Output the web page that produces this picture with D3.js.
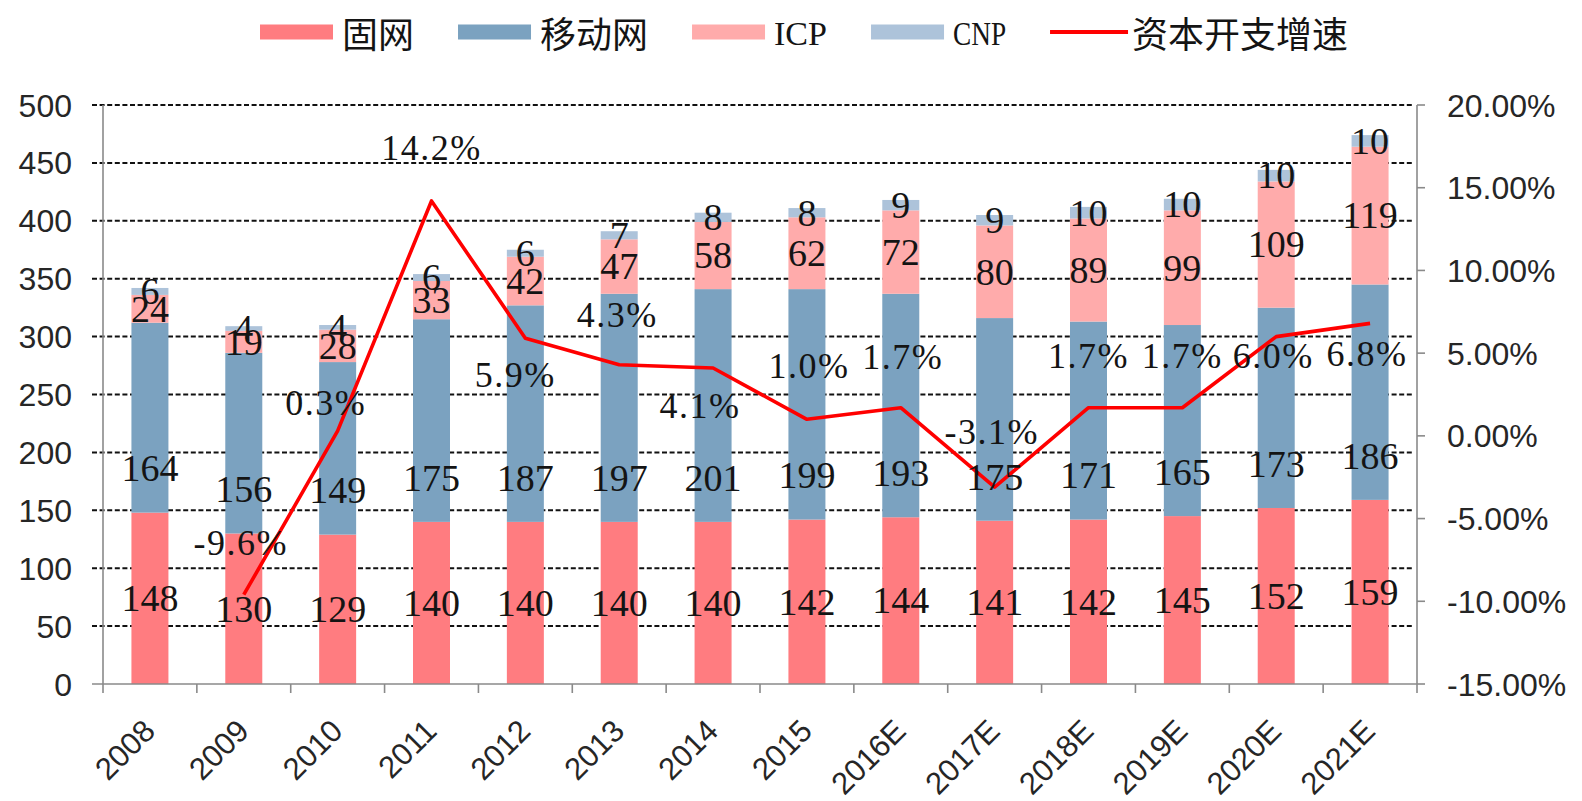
<!DOCTYPE html>
<html><head><meta charset="utf-8">
<script src="https://cdn.jsdelivr.net/npm/d3@7/dist/d3.min.js"></script>
<style>body{margin:0;background:#fff;} svg{display:block}</style>
</head><body>
<svg id="chart" width="1582" height="801"></svg>
<script>
// ---------- data ----------
const categories = ["2008","2009","2010","2011","2012","2013","2014","2015","2016E","2017E","2018E","2019E","2020E","2021E"];
const fixedNet  = [148,130,129,140,140,140,140,142,144,141,142,145,152,159];
const mobileNet = [164,156,149,175,187,197,201,199,193,175,171,165,173,186];
const icp       = [24,19,28,33,42,47,58,62,72,80,89,99,109,119];
const cnp       = [6,4,4,6,6,7,8,8,9,9,10,10,10,10];
const capexGrowth = [null,-9.6,0.3,14.2,5.9,4.3,4.1,1.0,1.7,-3.1,1.7,1.7,6.0,6.8];
const seriesNames = ["固网","移动网","ICP","CNP"];
const lineName = "资本开支增速";
const leftTicks  = [0,50,100,150,200,250,300,350,400,450,500];
const rightTicks = [-15,-10,-5,0,5,10,15,20];

// ---------- layout / style ----------
const colors = ["#FF7C80","#7BA2C0","#FFABAB","#ADC3DA"];
const lineColor = "#FF0000";
const plot = {left:103, right:1417, top:105, bottom:684};
// label nudges for the growth-rate labels (dx, dy relative to the point)
const lineLabelNudge = [[0,0],[-3,-52],[-12,-28],[0,-53],[-10,37],[-2,-50],[-13,38],[2,-53],[2,-51],[-3,-55],[0,-52],[0,-52],[-3,19],[-3,30]];

const svg = d3.select("#chart");
const x = d3.scaleBand().domain(categories).range([plot.left, plot.right]).padding(0);
const y = d3.scaleLinear().domain([0,500]).range([plot.bottom, plot.top]);
const y2 = d3.scaleLinear().domain([-15,20]).range([plot.bottom, plot.top]);
const barW = 37;
const cx = c => x(c) + x.bandwidth()/2;

// gridlines
svg.append("g").selectAll("line").data(leftTicks.filter(t => t > 0)).join("line")
  .attr("x1", plot.left - 11).attr("x2", plot.right - 3)
  .attr("y1", d => y(d)).attr("y2", d => y(d))
  .attr("stroke", "#111").attr("stroke-width", 2).attr("stroke-dasharray", "5,2.6");

// stacked bars
const rows = categories.map((c,i) => ({cat:c, s0:fixedNet[i], s1:mobileNet[i], s2:icp[i], s3:cnp[i]}));
const stack = d3.stack().keys(["s0","s1","s2","s3"])(rows);
const bars = svg.append("g");
stack.forEach((layer, li) => {
  bars.selectAll(null).data(layer).join("rect")
    .attr("x", d => cx(d.data.cat) - barW/2)
    .attr("width", barW)
    .attr("y", d => y(d[1]))
    .attr("height", d => y(d[0]) - y(d[1]))
    .attr("fill", colors[li]);
});

// axes lines
const axisColor = "#8a8a8a";
const ax = svg.append("g").attr("stroke", axisColor).attr("stroke-width", 1.6);
ax.append("line").attr("x1", plot.left).attr("x2", plot.left).attr("y1", plot.top).attr("y2", plot.bottom);
ax.append("line").attr("x1", plot.right).attr("x2", plot.right).attr("y1", plot.top).attr("y2", plot.bottom);
ax.append("line").attr("x1", plot.left - 11).attr("x2", plot.right).attr("y1", plot.bottom).attr("y2", plot.bottom);
// x ticks at band boundaries
const bounds = categories.map(c => x(c)).concat([plot.right]);
ax.selectAll(null).data(bounds).join("line")
  .attr("x1", d => d).attr("x2", d => d).attr("y1", plot.bottom).attr("y2", plot.bottom + 9);
// right ticks
ax.selectAll(null).data(rightTicks).join("line")
  .attr("x1", plot.right).attr("x2", plot.right + 8).attr("y1", d => y2(d)).attr("y2", d => y2(d));

// axis labels
const axisFont = "'Liberation Sans', Arial, sans-serif";
svg.append("g").selectAll("text").data(leftTicks).join("text")
  .attr("x", 72).attr("y", d => y(d) + 11.5)
  .attr("text-anchor", "end").attr("font-family", axisFont).attr("font-size", 32).attr("fill", "#262626")
  .text(d => d);
svg.append("g").selectAll("text").data(rightTicks).join("text")
  .attr("x", 1447).attr("y", d => y2(d) + 11.5)
  .attr("text-anchor", "start").attr("font-family", axisFont).attr("font-size", 32).attr("fill", "#262626")
  .text(d => d.toFixed(2) + "%");
svg.append("g").selectAll("text").data(categories).join("text")
  .attr("transform", d => `translate(${cx(d) - 1},${725}) rotate(-45)`)
  .attr("text-anchor", "end").attr("dy", "0.36em")
  .attr("font-family", axisFont).attr("font-size", 31).attr("fill", "#262626")
  .text(d => d);

// growth line
const linePts = categories.map((c,i) => ({c, v:capexGrowth[i]})).filter(d => d.v !== null);
svg.append("path").datum(linePts)
  .attr("d", d3.line().x(d => cx(d.c)).y(d => y2(d.v)))
  .attr("fill", "none").attr("stroke", lineColor).attr("stroke-width", 3.6).attr("stroke-linejoin", "round");

// data labels
const labFont = "'Liberation Serif', 'Times New Roman', serif";
const labSize = 38;
const labels = svg.append("g").attr("font-family", labFont).attr("font-size", labSize)
  .attr("fill", "#141414").attr("text-anchor", "middle");
stack.forEach((layer, li) => {
  labels.selectAll(null).data(layer).join("text")
    .attr("x", d => cx(d.data.cat))
    .attr("y", d => {
      const center = li === 1 ? y(d[0]) - 44 : (y(d[0]) + y(d[1])) / 2;
      return center + 0.338 * labSize;
    })
    .text(d => d[1] - d[0]);
});
labels.selectAll(null).data(linePts).join("text")
  .attr("font-size", 36).attr("letter-spacing", 1.5)
  .attr("x", d => cx(d.c) + lineLabelNudge[categories.indexOf(d.c)][0])
  .attr("y", d => y2(d.v) + lineLabelNudge[categories.indexOf(d.c)][1] + 0.338 * 36)
  .text(d => d.v.toFixed(1) + "%");

// legend
const leg = svg.append("g");
let lx = 260;
const ly = 32;
const cjk = "'Noto Sans CJK SC', sans-serif";
seriesNames.forEach((n, i) => {
  leg.append("rect").attr("x", lx).attr("y", ly - 7.5).attr("width", 73).attr("height", 15).attr("fill", colors[i]);
  const t = leg.append("text").attr("x", lx + 82).attr("y", ly).attr("dominant-baseline", "central")
    .attr("fill", "#141414").text(n);
  let w;
  if (/^[A-Z]+$/.test(n)) {
    t.attr("font-family", labFont).attr("font-size", 34).attr("textLength", 53).attr("lengthAdjust", "spacingAndGlyphs").attr("dy", "0.05em");
    w = 53;
  } else {
    t.attr("font-family", cjk).attr("font-size", 36);
    w = t.node().getComputedTextLength();
  }
  lx = lx + 82 + w + 44;
});
leg.append("line").attr("x1", lx).attr("x2", lx + 78).attr("y1", ly).attr("y2", ly)
  .attr("stroke", lineColor).attr("stroke-width", 4);
leg.append("text").attr("x", lx + 82).attr("y", ly).attr("dominant-baseline", "central")
  .attr("font-family", cjk).attr("font-size", 36).attr("fill", "#141414").text(lineName);
</script>
</body></html>
